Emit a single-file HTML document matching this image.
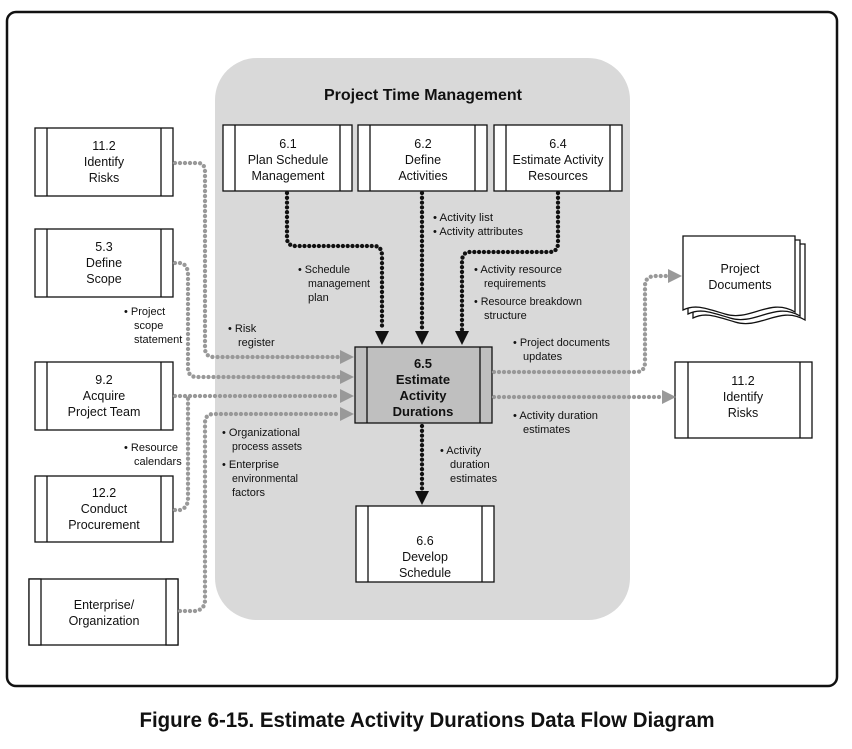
<!DOCTYPE html>
<html><head><meta charset="utf-8"><style>
html,body{margin:0;padding:0;background:#fff;}
svg{display:block;}
text{font-family:"Liberation Sans",sans-serif;}
.b{font-size:12.5px;text-anchor:middle;fill:#111;}
.l{font-size:11px;fill:#111;}
</style></head><body>
<svg width="852" height="749" viewBox="0 0 852 749" xmlns="http://www.w3.org/2000/svg">
<rect x="7" y="12" width="830" height="674" rx="9" fill="#fff" stroke="#111" stroke-width="2.5"/>
<rect x="215" y="58" width="415" height="562" rx="42" fill="#d9d9d9"/>
<text x="423" y="100" style="font-size:16px;font-weight:bold;text-anchor:middle;fill:#111">Project Time Management</text>

<g fill="#fff" stroke="#111" stroke-width="1.3">
<rect x="35" y="128" width="138" height="68"/><line x1="47" y1="128" x2="47" y2="196"/><line x1="161" y1="128" x2="161" y2="196"/>
<rect x="35" y="229" width="138" height="68"/><line x1="47" y1="229" x2="47" y2="297"/><line x1="161" y1="229" x2="161" y2="297"/>
<rect x="35" y="362" width="138" height="68"/><line x1="47" y1="362" x2="47" y2="430"/><line x1="161" y1="362" x2="161" y2="430"/>
<rect x="35" y="476" width="138" height="66"/><line x1="47" y1="476" x2="47" y2="542"/><line x1="161" y1="476" x2="161" y2="542"/>
<rect x="29" y="579" width="149" height="66"/><rect x="29" y="579" width="12" height="66"/><rect x="166" y="579" width="12" height="66"/>
<rect x="223" y="125" width="129" height="66"/><line x1="235" y1="125" x2="235" y2="191"/><line x1="340" y1="125" x2="340" y2="191"/>
<rect x="358" y="125" width="129" height="66"/><line x1="370" y1="125" x2="370" y2="191"/><line x1="475" y1="125" x2="475" y2="191"/>
<rect x="494" y="125" width="128" height="66"/><line x1="506" y1="125" x2="506" y2="191"/><line x1="610" y1="125" x2="610" y2="191"/>
<rect x="355" y="347" width="137" height="76" fill="#bfbfbf"/><line x1="367" y1="347" x2="367" y2="423"/><line x1="480" y1="347" x2="480" y2="423"/>
<rect x="356" y="506" width="138" height="76"/><line x1="368" y1="506" x2="368" y2="582"/><line x1="482" y1="506" x2="482" y2="582"/>
<rect x="675" y="362" width="137" height="76"/><line x1="688" y1="362" x2="688" y2="438"/><line x1="800" y1="362" x2="800" y2="438"/>
<path d="M693 244 H805 V320 C780 305 760 330 735 322 C715 316 705 312 693 318 Z"/>
<path d="M688 240 H800 V316 C775 301 755 326 730 318 C710 312 700 308 688 314 Z"/>
<path d="M683 236 H795 V312 C770 297 750 322 725 314 C705 308 695 304 683 310 Z"/>
</g>

<g class="b">
<text x="104" y="150">11.2</text><text x="104" y="166">Identify</text><text x="104" y="182">Risks</text>
<text x="104" y="251">5.3</text><text x="104" y="267">Define</text><text x="104" y="283">Scope</text>
<text x="104" y="384">9.2</text><text x="104" y="400">Acquire</text><text x="104" y="416">Project Team</text>
<text x="104" y="497">12.2</text><text x="104" y="513">Conduct</text><text x="104" y="529">Procurement</text>
<text x="104" y="609">Enterprise/</text><text x="104" y="625">Organization</text>
<text x="288" y="148">6.1</text><text x="288" y="164">Plan Schedule</text><text x="288" y="180">Management</text>
<text x="423" y="148">6.2</text><text x="423" y="164">Define</text><text x="423" y="180">Activities</text>
<text x="558" y="148">6.4</text><text x="558" y="164">Estimate Activity</text><text x="558" y="180">Resources</text>
<text x="425" y="545">6.6</text><text x="425" y="561">Develop</text><text x="425" y="577">Schedule</text>
<text x="740" y="273">Project</text><text x="740" y="289">Documents</text>
<text x="743" y="385">11.2</text><text x="743" y="401">Identify</text><text x="743" y="417">Risks</text>
<g style="font-weight:bold;font-size:13px"><text x="423" y="368">6.5</text><text x="423" y="384">Estimate</text><text x="423" y="400">Activity</text><text x="423" y="416">Durations</text></g>
</g>

<g fill="none" stroke="#999" stroke-width="4.3" stroke-linecap="round" stroke-dasharray="0 5">
<path d="M175 163 H198 Q205 163 205 172 V348 Q205 357 214 357 H340"/>
<path d="M175 263 H181 Q188 265 188 275 V368 Q188 377 197 377 H340"/>
<path d="M175 396 H340"/>
<path d="M175 510 H180 Q188 508 188 498 V396"/>
<path d="M180 611 H196 Q205 609 205 600 V423 Q205 414 214 414 H340"/>
<path d="M494 372 H636 Q645 372 645 362 V286 Q645 276 656 276 H668"/>
<path d="M494 397 H662"/>
</g>
<g fill="#999">
<polygon points="340,350 354,357 340,364"/><polygon points="340,370 354,377 340,384"/>
<polygon points="340,389 354,396 340,403"/><polygon points="340,407 354,414 340,421"/>
<polygon points="668,269 682,276 668,283"/><polygon points="662,390 676,397 662,404"/>
</g>

<g fill="none" stroke="#111" stroke-width="4.3" stroke-linecap="round" stroke-dasharray="0 4.8">
<path d="M287 193 V238 Q287 246 296 246 H374 Q382 246 382 256 V330"/>
<path d="M422 193 V330"/>
<path d="M558 193 V243 Q558 252 549 252 H470 Q462 252 462 262 V330"/>
<path d="M422 426 V490"/>
</g>
<g fill="#111">
<polygon points="375,331 389,331 382,345"/><polygon points="415,331 429,331 422,345"/>
<polygon points="455,331 469,331 462,345"/><polygon points="415,491 429,491 422,505"/>
</g>

<g class="l">
<text x="298" y="273" textLength="52" lengthAdjust="spacingAndGlyphs">• Schedule</text><text x="308" y="287" textLength="62" lengthAdjust="spacingAndGlyphs">management</text><text x="308" y="301">plan</text>
<text x="433" y="221" textLength="60" lengthAdjust="spacingAndGlyphs">• Activity list</text><text x="433" y="235" textLength="90" lengthAdjust="spacingAndGlyphs">• Activity attributes</text>
<text x="474" y="273" textLength="88" lengthAdjust="spacingAndGlyphs">• Activity resource</text><text x="484" y="287" textLength="62" lengthAdjust="spacingAndGlyphs">requirements</text>
<text x="474" y="305" textLength="108" lengthAdjust="spacingAndGlyphs">• Resource breakdown</text><text x="484" y="319">structure</text>
<text x="513" y="346" textLength="97" lengthAdjust="spacingAndGlyphs">• Project documents</text><text x="523" y="360">updates</text>
<text x="513" y="419" textLength="85" lengthAdjust="spacingAndGlyphs">• Activity duration</text><text x="523" y="433">estimates</text>
<text x="440" y="454">• Activity</text><text x="450" y="468">duration</text><text x="450" y="482">estimates</text>
<text x="124" y="315">• Project</text><text x="134" y="329">scope</text><text x="134" y="343">statement</text>
<text x="228" y="332">• Risk</text><text x="238" y="346">register</text>
<text x="124" y="451">• Resource</text><text x="134" y="465">calendars</text>
<text x="222" y="436" textLength="78" lengthAdjust="spacingAndGlyphs">• Organizational</text><text x="232" y="450" textLength="70" lengthAdjust="spacingAndGlyphs">process assets</text>
<text x="222" y="468">• Enterprise</text><text x="232" y="482" textLength="66" lengthAdjust="spacingAndGlyphs">environmental</text><text x="232" y="496">factors</text>
</g>

<text x="427" y="727" textLength="575" lengthAdjust="spacingAndGlyphs" style="font-size:21px;font-weight:bold;text-anchor:middle;fill:#111">Figure 6-15. Estimate Activity Durations Data Flow Diagram</text>
</svg>
</body></html>
